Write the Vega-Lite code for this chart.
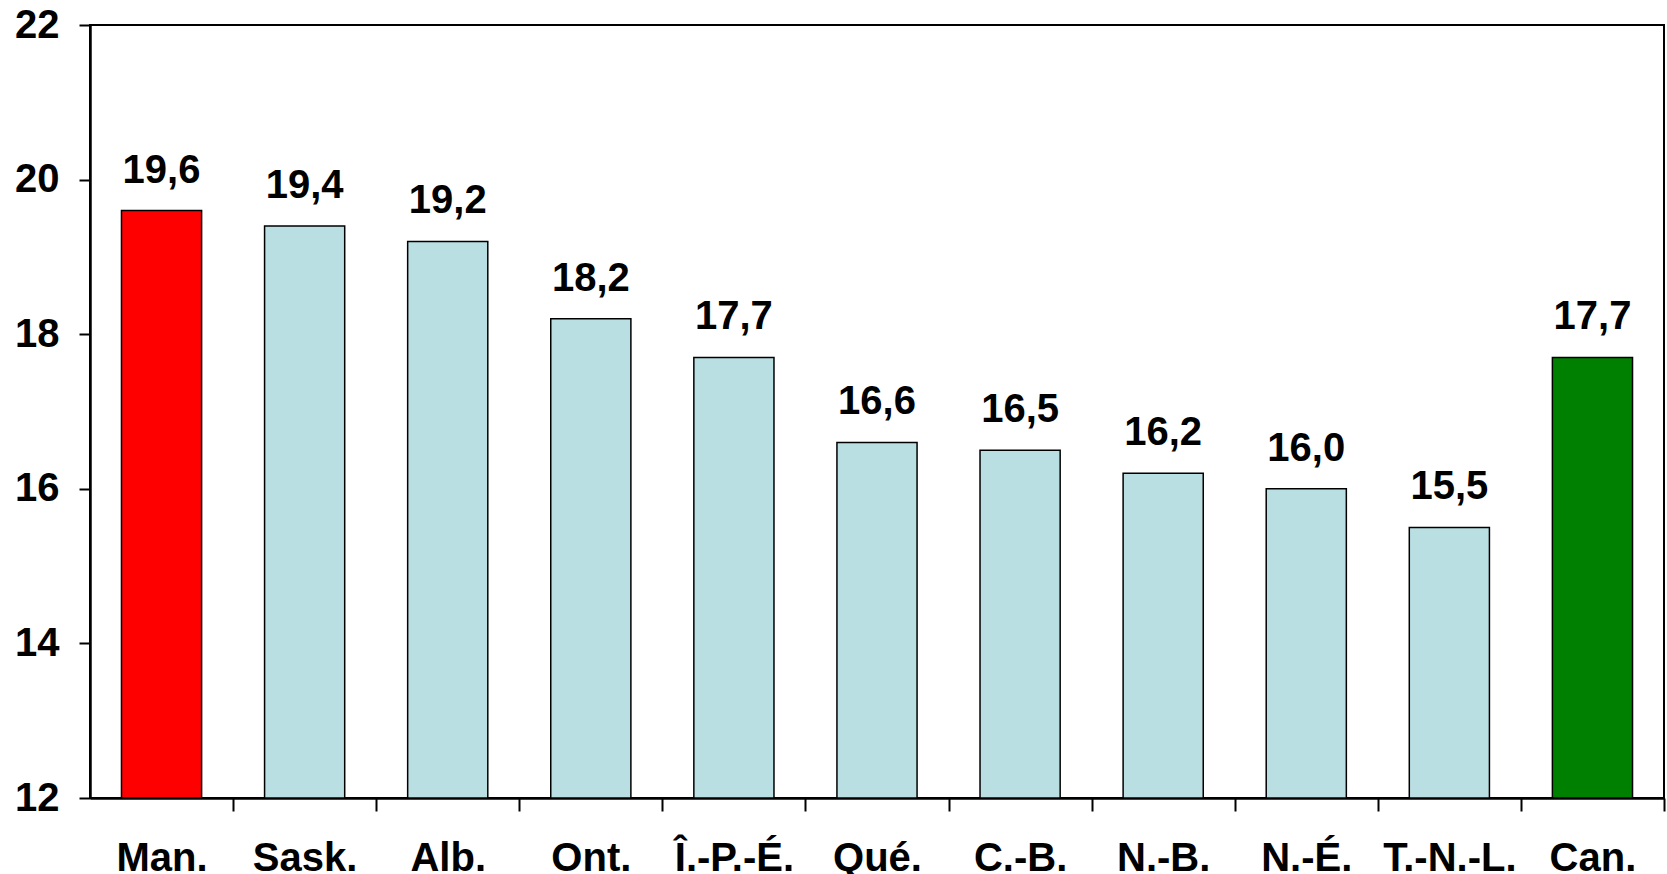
{
  "$schema": "https://vega.github.io/schema/vega-lite/v6.json",
  "autosize": "none",
  "width": 1574,
  "height": 773,
  "padding": {"left": 90, "top": 25, "right": 3, "bottom": 76},
  "background": "white",
  "title": {
    "text": "Pourcentage de la population âgée de 0 à 14 ans",
    "font": "Liberation Sans",
    "fontSize": 40,
    "fontWeight": "bold",
    "color": "black",
    "anchor": "middle",
    "baseline": "alphabetic",
    "offset": 4,
    "dx": -32
  },
  "config": {
    "view": {"stroke": "black", "strokeWidth": 2},
    "font": "Liberation Sans"
  },
  "data": {
    "values": [
      {"region": "Man.", "valeur": 19.6, "label": "19,6", "groupe": "Manitoba"},
      {"region": "Sask.", "valeur": 19.4, "label": "19,4", "groupe": "Autre"},
      {"region": "Alb.", "valeur": 19.2, "label": "19,2", "groupe": "Autre"},
      {"region": "Ont.", "valeur": 18.2, "label": "18,2", "groupe": "Autre"},
      {"region": "Î.-P.-É.", "valeur": 17.7, "label": "17,7", "groupe": "Autre"},
      {"region": "Qué.", "valeur": 16.6, "label": "16,6", "groupe": "Autre"},
      {"region": "C.-B.", "valeur": 16.5, "label": "16,5", "groupe": "Autre"},
      {"region": "N.-B.", "valeur": 16.2, "label": "16,2", "groupe": "Autre"},
      {"region": "N.-É.", "valeur": 16.0, "label": "16,0", "groupe": "Autre"},
      {"region": "T.-N.-L.", "valeur": 15.5, "label": "15,5", "groupe": "Autre"},
      {"region": "Can.", "valeur": 17.7, "label": "17,7", "groupe": "Canada"}
    ]
  },
  "encoding": {
    "x": {
      "field": "region",
      "type": "nominal",
      "sort": null,
      "title": null,
      "scale": {"paddingInner": 0.44, "paddingOuter": 0.22},
      "axis": {
        "labelAngle": 0,
        "labelFont": "Liberation Sans",
        "labelFontSize": 40,
        "labelFontWeight": "bold",
        "labelColor": "black",
        "labelPadding": 27,
        "tickOffset": 71.5,
        "labelOffset": -71.5,
        "tickSize": 13,
        "tickWidth": 2,
        "tickColor": "black",
        "domainColor": "black",
        "domainWidth": 2.5
      }
    }
  },
  "layer": [
    {
      "mark": {"type": "bar", "stroke": "black", "strokeWidth": 1.5},
      "encoding": {
        "y": {
          "field": "valeur",
          "type": "quantitative",
          "title": null,
          "scale": {"domain": [12, 22], "zero": false, "nice": false},
          "axis": {
            "values": [12, 14, 16, 18, 20, 22],
            "format": "d",
            "grid": false,
            "labelFont": "Liberation Sans",
            "labelFontSize": 40,
            "labelFontWeight": "bold",
            "labelColor": "black",
            "labelPadding": 20,
            "tickSize": 11,
            "tickWidth": 2,
            "tickColor": "black",
            "domainColor": "black",
            "domainWidth": 2.5
          }
        },
        "y2": {"datum": 12},
        "color": {
          "field": "groupe",
          "type": "nominal",
          "scale": {"domain": ["Manitoba", "Autre", "Canada"], "range": ["#FF0000", "#BADFE3", "#008000"]},
          "legend": null
        }
      }
    },
    {
      "mark": {"type": "text", "font": "Liberation Sans", "fontSize": 40, "fontWeight": "bold", "color": "black", "baseline": "alphabetic", "dy": -28},
      "encoding": {
        "y": {"field": "valeur", "type": "quantitative"},
        "text": {"field": "label"}
      }
    }
  ]
}
